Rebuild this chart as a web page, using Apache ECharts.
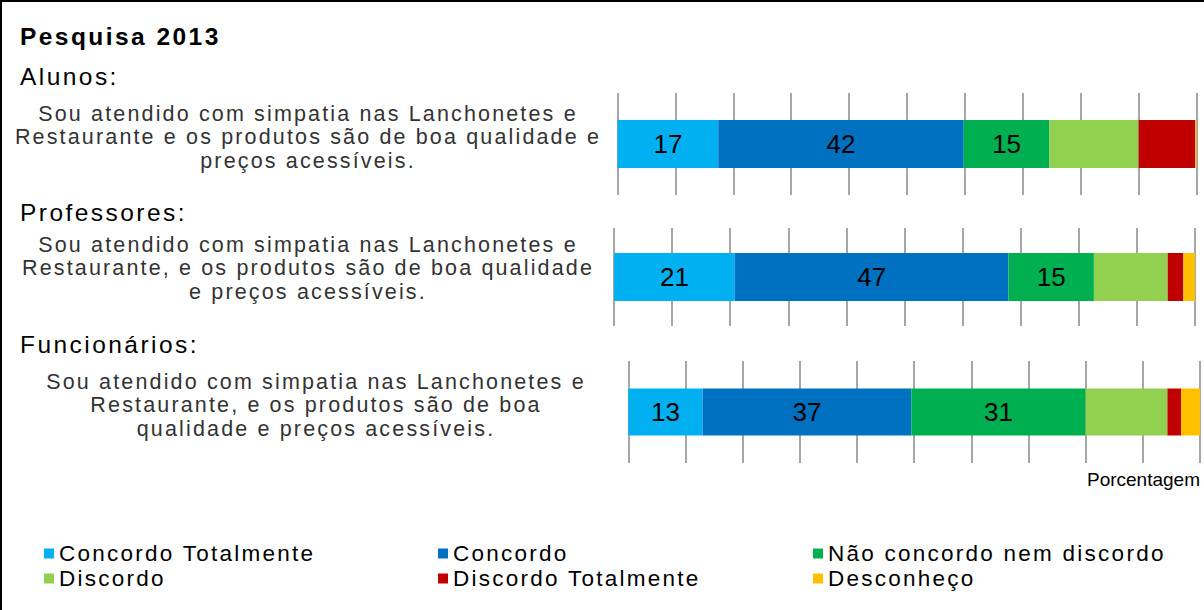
<!DOCTYPE html>
<html>
<head>
<meta charset="utf-8">
<title>Pesquisa 2013</title>
<script src="https://cdn.jsdelivr.net/npm/echarts@6/dist/echarts.min.js"></script>
<style>
  html, body { margin: 0; padding: 0; background: #fff; }
  #chart { width: 1204px; height: 610px; }
  /* the source picture has slightly spaced-out lettering */
  #chart svg text { letter-spacing: 0.1em; }
  #chart svg text[style*="26px"], #chart svg text[style*="19px"] { letter-spacing: 0; }
</style>
</head>
<body>
<div id="chart"></div>
<script>
// respondent groups (one bar each)
const groups = ["Alunos:", "Professores:", "Funcionários:"];
const questions = [
  "Sou atendido com simpatia nas Lanchonetes e\nRestaurante e os produtos são de boa qualidade e\npreços acessíveis.",
  "Sou atendido com simpatia nas Lanchonetes e\nRestaurante, e os produtos são de boa qualidade\ne preços acessíveis.",
  "Sou atendido com simpatia nas Lanchonetes e\nRestaurante, e os produtos são de boa\nqualidade e preços acessíveis."
];

// answers, values in % per group [Alunos, Professores, Funcionários]
const answers = ["Concordo Totalmente", "Concordo", "Não concordo nem discordo", "Discordo", "Discordo Totalmente", "Desconheço"];
const concordoTotalmente = [17.4, 20.8, 13.0];
const concordo = [42.4, 47.1, 36.5];
const naoConcordo = [14.8, 14.7, 30.5];
const discordo = [15.4, 12.7, 14.3];
const discordoTotalmente = [9.8, 2.7, 2.4];
const desconheco = [0.2, 2.0, 3.3];
const values = [concordoTotalmente, concordo, naoConcordo, discordo, discordoTotalmente, desconheco];

const colors = ["#00b0f0", "#0070c0", "#00b050", "#92d050", "#c00000", "#ffc000"];

const chart = echarts.init(document.getElementById("chart"), null, { renderer: "svg" });
const font = "Liberation Sans, Arial, sans-serif";

// layout of each small chart
const grids = [
  { left: 617.5, width: 579, top: 93, height: 102, bar: 48, textX: 308, textY: 137, labelY: 76 },
  { left: 614, width: 581, top: 228, height: 98, bar: 48, textX: 308, textY: 268, labelY: 212 },
  { left: 628.3, width: 571.7, top: 361, height: 102, bar: 47, textX: 316, textY: 405, labelY: 344 }
];

const xAxis = grids.map((g, i) => ({
  gridIndex: i,
  type: "value",
  min: 0,
  max: 100,
  interval: 10,
  axisLine: { show: false },
  axisTick: { show: false },
  axisLabel: { show: false },
  splitLine: { show: true, lineStyle: { color: "#a6a6a6", width: 2 } },
  name: i === 2 ? "Porcentagem" : "",
  nameLocation: "end",
  nameGap: 0,
  nameTextStyle: { fontFamily: font, fontSize: 19, color: "#000", align: "right", verticalAlign: "top", padding: [7, 0, 0, 0] }
}));

// the question text is drawn separately (it sits a little above the bar centre)
const yAxis = grids.map((g, i) => ({
  gridIndex: i,
  type: "category",
  data: [groups[i]],
  axisLine: { show: false },
  axisTick: { show: false },
  axisLabel: { show: false }
}));

const series = [];
grids.forEach((g, gi) => {
  answers.forEach((name, ci) => {
    series.push({
      type: "bar",
      name: name,
      stack: "g" + gi,
      xAxisIndex: gi,
      yAxisIndex: gi,
      barWidth: g.bar,
      data: [values[ci][gi]],
      itemStyle: { color: colors[ci] },
      label: {
        show: ci < 3,
        position: "inside",
        formatter: (p) => Math.round(p.value),
        fontFamily: font,
        fontSize: 26,
        color: "#000"
      },
      emphasis: { disabled: true }
    });
  });
});

// legend laid out as two rows of three columns
const legendCols = [44, 438, 813];
const legendRows = [542, 567];
const legend = answers.map((name, i) => ({
  data: [name],
  left: legendCols[i % 3],
  top: legendRows[Math.floor(i / 3)],
  padding: 0,
  icon: "rect",
  itemWidth: 10,
  itemHeight: 10,
  selectedMode: false,
  textStyle: { fontFamily: font, fontSize: 22.5, color: "#000" }
}));

const titles = [
  { text: "Pesquisa 2013", left: 20, top: 23.5, padding: 0, textStyle: { fontFamily: font, fontSize: 24.5, fontWeight: "bold", color: "#000" } }
].concat(grids.map((g, i) => ({
  text: groups[i],
  left: 20,
  top: g.labelY - 12.5,
  padding: 0,
  textStyle: { fontFamily: font, fontSize: 24.5, fontWeight: "normal", color: "#000" }
})));

const questionText = grids.map((g, i) => ({
  type: "text",
  x: g.textX,
  y: g.textY,
  silent: true,
  style: {
    text: questions[i],
    align: "center",
    verticalAlign: "middle",
    fontFamily: font,
    fontSize: 21.5,
    lineHeight: 23.5,
    fill: "#333"
  }
}));

chart.setOption({
  animation: false,
  title: titles,
  legend: legend,
  grid: grids.map((g) => ({ left: g.left, top: g.top, width: g.width, height: g.height })),
  xAxis: xAxis,
  yAxis: yAxis,
  series: series,
  graphic: [
    {
      type: "rect",
      shape: { x: 1, y: 1, width: 1240, height: 640 },
      style: { fill: "none", stroke: "#000", lineWidth: 2 },
      silent: true
    }
  ].concat(questionText)
});
</script>
</body>
</html>
